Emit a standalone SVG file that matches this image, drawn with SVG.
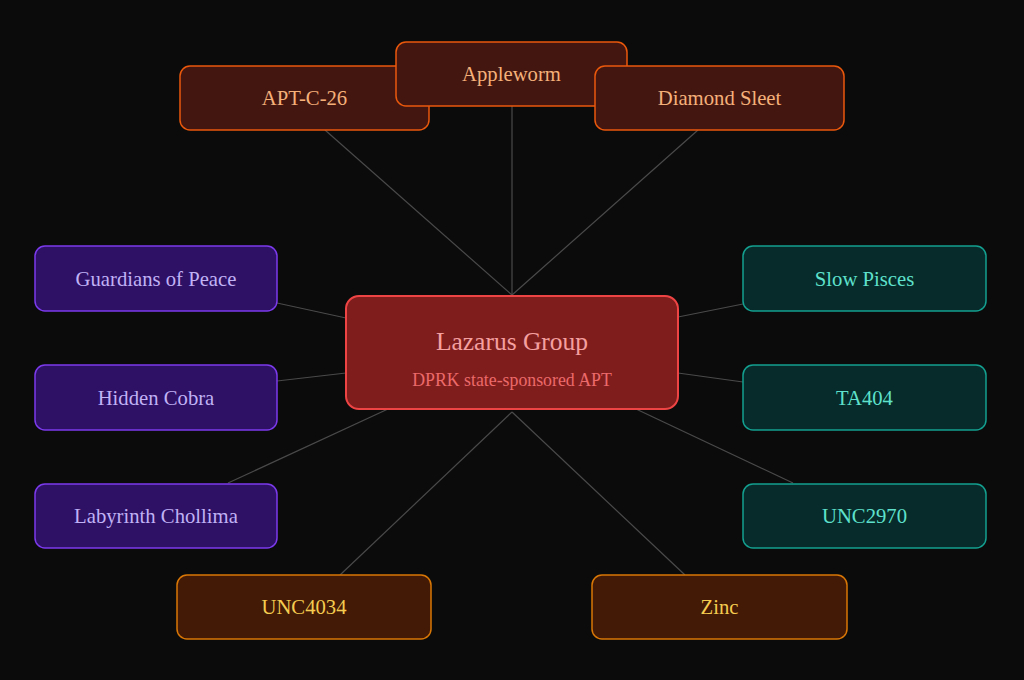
<svg xmlns="http://www.w3.org/2000/svg" width="1024" height="680" viewBox="0 0 1024 680">
<style>
text{font-family:"Liberation Serif","Times New Roman",serif;text-anchor:middle;dominant-baseline:central}
.e{stroke:#4a4a4a;stroke-width:1.2;fill:none}
.n text{font-size:20.7px}
.t rect{fill:#431710;stroke:#ea580c;stroke-width:1.5}
.t text{fill:#f5b07a}
.l rect{fill:#2e1065;stroke:#7c3aed;stroke-width:1.5}
.l text{fill:#c0b2f5}
.r rect{fill:#062b2a;stroke:#14a090;stroke-width:1.5}
.r text{fill:#5ee0cc}
.b rect{fill:#431a05;stroke:#d97706;stroke-width:1.5}
.b text{fill:#f5cc50}
</style>
<rect width="1024" height="680" fill="#0b0b0b"/>
<g id="connectors">
<line class="e" x1="512" y1="106" x2="512" y2="295"/>
<line class="e" x1="325" y1="130" x2="512" y2="295"/>
<line class="e" x1="698" y1="130" x2="512" y2="295"/>
<line class="e" x1="277" y1="303" x2="346" y2="318"/>
<line class="e" x1="277" y1="381" x2="346" y2="373"/>
<line class="e" x1="228" y1="483" x2="388" y2="409"/>
<line class="e" x1="743" y1="304" x2="678" y2="317"/>
<line class="e" x1="743" y1="382" x2="678" y2="373"/>
<line class="e" x1="793" y1="483" x2="636" y2="409"/>
<line class="e" x1="340" y1="575" x2="512" y2="412"/>
<line class="e" x1="685" y1="575" x2="512" y2="412"/>
</g>
<g id="apt-c-26" class="n t"><rect x="180" y="66" width="249" height="64" rx="10"/><text x="304.5" y="98">APT-C-26</text></g>
<g id="appleworm" class="n t"><rect x="396" y="42" width="231" height="64" rx="10"/><text x="511.5" y="74">Appleworm</text></g>
<g id="diamond-sleet" class="n t"><rect x="595" y="66" width="249" height="64" rx="10"/><text x="719.5" y="98">Diamond Sleet</text></g>
<g id="guardians-of-peace" class="n l"><rect x="35" y="246" width="242" height="65" rx="10"/><text x="156" y="279">Guardians of Peace</text></g>
<g id="hidden-cobra" class="n l"><rect x="35" y="365" width="242" height="65" rx="10"/><text x="156" y="398">Hidden Cobra</text></g>
<g id="labyrinth-chollima" class="n l"><rect x="35" y="484" width="242" height="64" rx="10"/><text x="156" y="516">Labyrinth Chollima</text></g>
<g id="slow-pisces" class="n r"><rect x="743" y="246" width="243" height="65" rx="10"/><text x="864.5" y="279">Slow Pisces</text></g>
<g id="ta404" class="n r"><rect x="743" y="365" width="243" height="65" rx="10"/><text x="864.5" y="398">TA404</text></g>
<g id="unc2970" class="n r"><rect x="743" y="484" width="243" height="64" rx="10"/><text x="864.5" y="516">UNC2970</text></g>
<g id="unc4034" class="n b"><rect x="177" y="575" width="254" height="64" rx="10"/><text x="304" y="607">UNC4034</text></g>
<g id="zinc" class="n b"><rect x="592" y="575" width="255" height="64" rx="10"/><text x="719.5" y="607">Zinc</text></g>
<g id="lazarus-group">
<rect x="346" y="296" width="332" height="113" rx="13" fill="#7f1d1d" stroke="#ef4444" stroke-width="2"/>
<text x="512" y="341" fill="#f5a0a0" font-size="25.5">Lazarus Group</text>
<text x="512" y="380" fill="#ec6a6a" font-size="17.8">DPRK state-sponsored APT</text>
</g>
</svg>
